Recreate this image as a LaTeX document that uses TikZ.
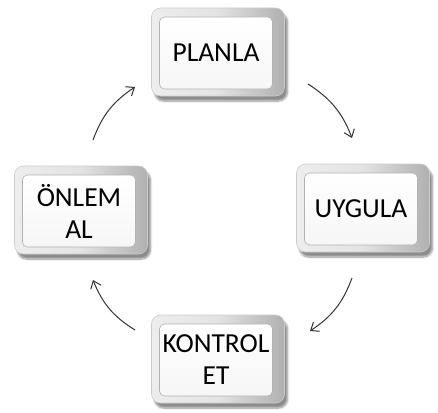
\documentclass[tikz,border=0pt]{standalone}
\usepackage{fontspec}
\setmainfont{Carlito}
\usetikzlibrary{arrows.meta,shadows.blur}
\tikzset{
  btnbase/.style={minimum width=133pt, minimum height=88pt, rounded corners=9pt,
    draw=gray!40, line width=0.6pt, inner sep=0pt,
    left color=gray!14, right color=gray!62, middle color=gray!22,
    blur shadow={shadow xshift=3pt, shadow yshift=-5pt, shadow blur steps=8, shadow opacity=45}},
  btnface/.style={minimum width=113pt, minimum height=72pt, rounded corners=5pt,
    draw=gray!60, line width=0.6pt, top color=white, bottom color=gray!7,
    inner sep=0pt, align=center, text=black,
    font=\fontsize{27.5}{32}\selectfont},
  cyc/.style={draw=black!80, line width=1pt, -{Straight Barb[length=7pt,width=11pt,line width=1pt]}, bend left=18}
}
\begin{document}
\begin{tikzpicture}[x=1pt,y=-1pt]
\useasboundingbox (0,0) rectangle (438,412);
% buttons
\node[btnbase] (planlaB) at (218,52) {};
\node[btnface] (planla) at (216,53) {PLANLA};
\node[btnbase] (uygulaB) at (363,208) {};
\node[btnface] (uygula) at (361,209) {UYGULA};
\node[btnbase] (onlemB) at (81,210) {};
\node[btnface] (onlem) at (79,211) {ÖNLEM\\AL};
\node[btnbase] (kontrolB) at (218,359) {};
\node[btnface] (kontrol) at (216,360) {KONTROL\\ET};
% arrow ends
\coordinate (a1s) at (93,140);  \coordinate (a1e) at (135,87);
\coordinate (a2s) at (308,84);  \coordinate (a2e) at (352,138);
\coordinate (a3s) at (352,278); \coordinate (a3e) at (310,331);
\coordinate (a4s) at (135,330); \coordinate (a4e) at (93,280);
\draw[cyc] (a1s) to (a1e);
\draw[cyc] (a2s) to (a2e);
\draw[cyc] (a3s) to (a3e);
\draw[cyc] (a4s) to (a4e);
\end{tikzpicture}
\end{document}
